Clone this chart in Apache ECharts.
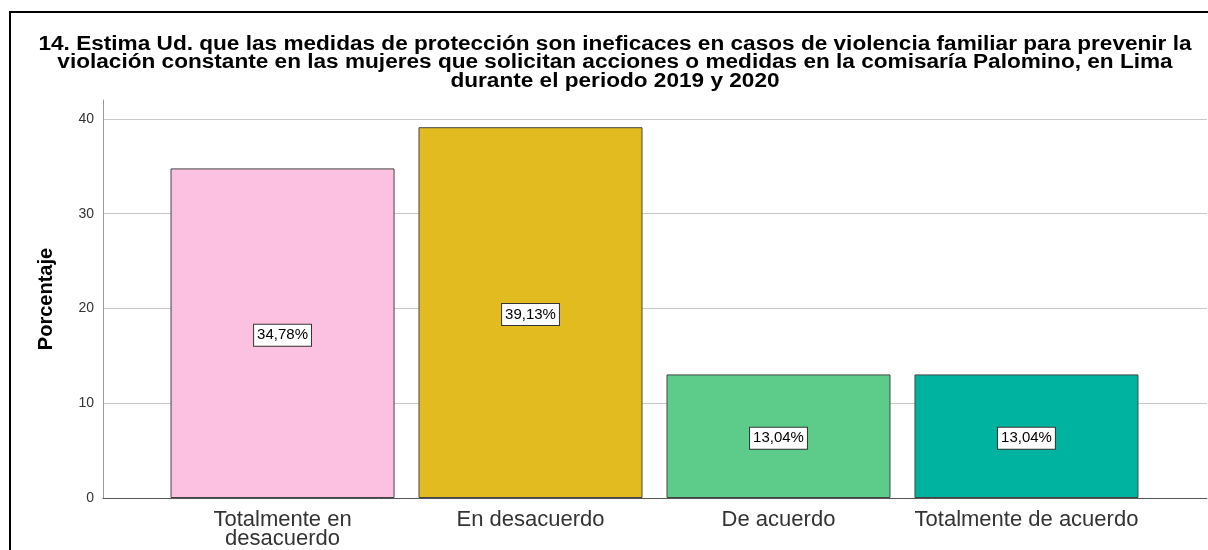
<!DOCTYPE html>
<html>
<head>
<meta charset="utf-8">
<script src="https://cdn.jsdelivr.net/npm/echarts@6/dist/echarts.min.js"></script>
<style>
  html, body { margin: 0; padding: 0; background: #fff; }
  #chart { width: 1208px; height: 550px; }
</style>
</head>
<body>
<div id="chart"></div>
<script>
const categories = ['Totalmente en\ndesacuerdo', 'En desacuerdo', 'De acuerdo', 'Totalmente de acuerdo']
const percentages = [34.78, 39.13, 13.04, 13.04]
const barColors = ['#fcc1e0', '#e1bb20', '#5dcb8a', '#00b3a0']
const yTicks = [0, 10, 20, 30, 40]

const titleText = '14. Estima Ud. que las medidas de protección son ineficaces en casos de violencia familiar para prevenir la\n' +
  'violación constante en las mujeres que solicitan acciones o medidas en la comisaría Palomino, en Lima\n' +
  'durante el periodo 2019 y 2020'

const chart = echarts.init(document.getElementById('chart'))

chart.setOption({
  backgroundColor: '#fff',
  animation: false,
  textStyle: { fontFamily: 'Liberation Sans' },
  graphic: [
    {
      type: 'rect',
      shape: { x: 10, y: 12, width: 1400, height: 700 },
      style: { fill: 'none', stroke: '#000', lineWidth: 2 },
      silent: true
    },
    // title, a little wider than the font, like the original export
    {
      type: 'text',
      x: 615,
      y: 35,
      scaleX: 1.13,
      silent: true,
      style: {
        text: titleText,
        align: 'center',
        verticalAlign: 'top',
        fontFamily: 'Liberation Sans',
        fontWeight: 'bold',
        fontSize: 20,
        lineHeight: 18.5,
        fill: '#000'
      }
    }
  ],
  grid: {
    left: 103,
    right: 1,
    top: 100,
    bottom: 52
  },
  xAxis: {
    type: 'value',
    min: -0.724,
    max: 3.728,
    splitLine: { show: false },
    axisTick: { show: false },
    axisLine: { show: true, onZero: false, lineStyle: { color: '#555', width: 1 } },
    axisLabel: {
      customValues: [0, 1, 2, 3],
      formatter: v => categories[Math.round(v)] || '',
      fontSize: 22,
      lineHeight: 19,
      color: '#333',
      margin: 12
    }
  },
  yAxis: {
    type: 'value',
    min: 0,
    max: 42,
    interval: 10,
    name: 'Porcentaje',
    nameLocation: 'middle',
    nameRotate: 90,
    nameGap: 47,
    nameTextStyle: {
      fontFamily: 'Liberation Sans',
      fontWeight: 'bold',
      fontSize: 20,
      color: '#000'
    },
    axisLine: { show: true, onZero: false, lineStyle: { color: '#999', width: 1 } },
    axisTick: { show: false },
    axisLabel: {
      showMaxLabel: false,
      fontSize: 14,
      color: '#333',
      margin: 9,
      formatter: v => (yTicks.includes(v) ? String(v) : '')
    },
    splitLine: {
      show: true,
      showMinLine: false,
      showMaxLine: false,
      lineStyle: { color: '#c8c8c8', width: 1 }
    }
  },
  series: [
    {
      type: 'bar',
      barWidth: 224,
      data: percentages.map((v, i) => ({
        value: [i, v],
        itemStyle: { color: barColors[i] }
      })),
      itemStyle: { borderColor: '#444', borderWidth: 1 },
      label: {
        show: true,
        position: 'inside',
        offset: [0, 2],
        formatter: p => p.value[1].toFixed(2).replace('.', ',') + '%',
        fontFamily: 'Liberation Sans',
        fontSize: 15,
        lineHeight: 16,
        color: '#000',
        backgroundColor: '#fff',
        borderColor: '#333',
        borderWidth: 1,
        padding: [3, 3, 2, 3]
      }
    }
  ]
})
</script>
</body>
</html>
